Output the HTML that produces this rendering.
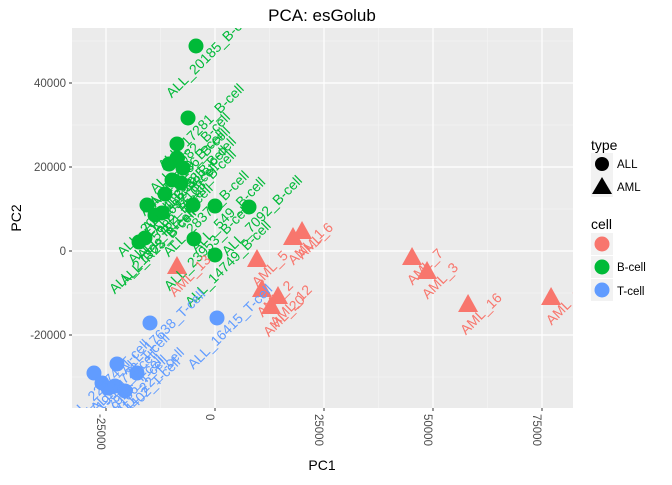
<!DOCTYPE html>
<html><head><meta charset="utf-8"><style>
body{margin:0;background:#fff;font-family:"Liberation Sans",sans-serif}
</style></head><body>
<svg id="chart" width="672" height="480" xmlns="http://www.w3.org/2000/svg" font-family="Liberation Sans, sans-serif">
<defs><clipPath id="pc"><rect x="72" y="28" width="501" height="380"/></clipPath></defs>
<rect x="72" y="28" width="501" height="380" fill="#ebebeb"/>
<g id="grid"></g>
<g id="marks" clip-path="url(#pc)"></g>
<g id="axes"></g>
<text x="322" y="21" text-anchor="middle" font-size="17" fill="#000">PCA: esGolub</text>
<text x="322" y="470" text-anchor="middle" font-size="14" fill="#000">PC1</text>
<text transform="translate(21,218) rotate(-90)" text-anchor="middle" font-size="14" fill="#000">PC2</text>
<g>
<text x="591" y="150" font-size="14">type</text>
<rect x="591" y="153" width="22" height="22" fill="#f2f2f2"/>
<circle cx="602" cy="164" r="7" fill="#000"/>
<text x="617" y="168" font-size="11.5">ALL</text>
<rect x="591" y="175" width="22" height="22" fill="#f2f2f2"/>
<polygon points="602,177 612,194 592,194" fill="#000"/>
<text x="617" y="191" font-size="11.5">AML</text>
</g>
<g>
<text x="591" y="229" font-size="14">cell</text>
<rect x="591" y="233" width="22" height="22" fill="#f2f2f2"/>
<circle cx="602" cy="244" r="7.5" fill="#F8766D"/>
<rect x="591" y="256" width="22" height="22" fill="#f2f2f2"/>
<circle cx="602" cy="267" r="7.5" fill="#00BA38"/>
<text x="617" y="271" font-size="11.5">B-cell</text>
<rect x="591" y="279" width="22" height="22" fill="#f2f2f2"/>
<circle cx="602" cy="290" r="7.5" fill="#619CFF"/>
<text x="617" y="295" font-size="11.5">T-cell</text>
</g>
</svg>
<script>
const pc1 = [-4360,-6190,-8720,-8720,-10550,-7340,-7800,-11470,-15600,-12160,-5050,0,7800,-16060,-17430,-4820,0,-13760,-9860,
 -8720,9630,10780,14450,12850,19960,17890,45190,48630,58040,77080,
 -14910,460,-22480,-27760,-25920,-17890,-22940,-20650,-24550];
const pc2 = [48810,31670,25480,22140,20710,19760,16190,13570,10950,9050,10950,10710,10480,3100,2140,2860,-950,8570,16900,
 -3810,-2140,-9290,-10950,-13330,4520,3100,-1670,-5000,-12860,-11190,
 -17140,-15950,-26900,-29050,-31430,-29050,-32140,-33330,-32620];
const cellType = ["B","B","B","B","B","B","B","B","B","B","B","B","B","B","B","B","B","B","B",
 "","","","","","","","","","","",
 "T","T","T","T","T","T","T","T","T"];
const sampleType = ["ALL","ALL","ALL","ALL","ALL","ALL","ALL","ALL","ALL","ALL","ALL","ALL","ALL","ALL","ALL","ALL","ALL","ALL","ALL",
 "AML","AML","AML","AML","AML","AML","AML","AML","AML","AML","AML",
 "ALL","ALL","ALL","ALL","ALL","ALL","ALL","ALL","ALL"];
const labels = ["ALL_20185_B-cell","ALL_17281_B-cell","ALL_5982_B-cell","ALL_9186_B-cell","ALL_19769_B-cell","ALL_9335_B-cell","ALL_11103_B-cell","ALL_9692_B-cell","ALL_20414_B-cell","ALL_R11_B-cell","ALL_28373_B-cell","ALL_549_B-cell","ALL_7092_B-cell","ALL_R23_B-cell","ALL_21302_B-cell","ALL_23953_B-cell","ALL_14749_B-cell","ALL_5982_B-cell","ALL_18239_B-cell",
 "AML_13","AML_5","AML_2","AML_12","AML_20","AML_6","AML_1","AML_7","AML_3","AML_16","AML_1",
 "ALL_17638_T-cell","ALL_16415_T-cell","ALL_9723_T-cell","ALL_22474_T-cell","ALL_19881_T-cell","ALL_22_T-cell","ALL_9186_T-cell","ALL_14402_T-cell","ALL_17929_T-cell"];
const xTicks = [-25000,0,25000,50000,75000];
const yTicks = [-20000,0,20000,40000];

const X = v => 215 + v/25000*109;
const Y = v => 251 - v/20000*84;
const NS = "http://www.w3.org/2000/svg";
const colors = {"":"#F8766D","B":"#00BA38","T":"#619CFF"};
function mk(tag, attrs, parent){const e=document.createElementNS(NS,tag);for(const k in attrs)e.setAttribute(k,attrs[k]);parent.appendChild(e);return e;}
const grid=document.getElementById('grid'), axes=document.getElementById('axes'), marks=document.getElementById('marks');
for(let i=0;i<xTicks.length-1;i++){const m=X((xTicks[i]+xTicks[i+1])/2);
 const l=mk('line',{x1:m,x2:m,y1:28,y2:408,stroke:'#f5f5f5','stroke-width':0.6},grid);
 
 }
for(let i=0;i<yTicks.length-1;i++){const m=Y((yTicks[i]+yTicks[i+1])/2);
 const l=mk('line',{x1:72,x2:573,y1:m,y2:m,stroke:'#f5f5f5','stroke-width':0.6},grid);
 
 }
{const m=Y(-30000);const l=mk('line',{x1:72,x2:573,y1:m,y2:m,stroke:'#f5f5f5','stroke-width':0.6},grid);
 
 }
{const m=Y(50000);const l=mk('line',{x1:72,x2:573,y1:m,y2:m,stroke:'#f5f5f5','stroke-width':0.6},grid);
 
 }
xTicks.forEach(t=>{const x=X(t);
 const l=mk('line',{x1:x,x2:x,y1:28,y2:408,stroke:'#fff','stroke-width':1.2},grid);
 
 
 const tk=mk('line',{x1:x,x2:x,y1:408,y2:411,stroke:'#333'},axes);
 
 
 const tx=mk('text',{transform:`translate(${x-9},414) rotate(90)`,'font-size':11.5,fill:'#4d4d4d','text-anchor':'start'},axes);
 tx.textContent=String(t);
 
 });
yTicks.forEach(t=>{const y=Y(t);
 const l=mk('line',{x1:72,x2:573,y1:y,y2:y,stroke:'#fff','stroke-width':1.2},grid);
 
 
 const tk=mk('line',{x1:69,x2:72,y1:y,y2:y,stroke:'#333'},axes);
 
 
 const tx=mk('text',{x:66,y:y+4,'font-size':11.5,fill:'#4d4d4d','text-anchor':'end'},axes);
 tx.textContent=String(t);
 
 });
for(let i=0;i<pc1.length;i++){const x=X(pc1[i]),y=Y(pc2[i]),c=colors[cellType[i]];
 let p;
 if(sampleType[i]==="AML"){p=mk('polygon',{points:`${x},${y-11} ${x+10},${y+7} ${x-10},${y+7}`,fill:c},marks);}
 else{p=mk('circle',{cx:x,cy:y,r:7.5,fill:c},marks);}
 
 }
for(let i=0;i<pc1.length;i++){const x=X(pc1[i]),y=Y(pc2[i]),c=colors[cellType[i]];
 const t=mk('text',{transform:`translate(${x},${y}) rotate(-45) translate(3,20)`,'font-size':14,fill:c,'text-anchor':'middle'},marks);
 t.textContent=labels[i];
 
 }
</script>
</body></html>
